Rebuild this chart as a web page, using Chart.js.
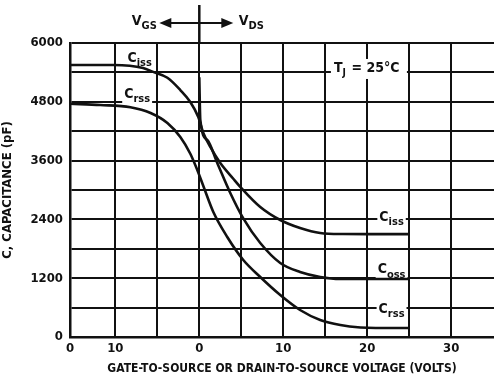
<!DOCTYPE html>
<html>
<head>
<meta charset="utf-8">
<script src="https://cdn.jsdelivr.net/npm/chart.js@4"></script>
<style>
  body { margin: 0; background: #fff; }
  #wrap { width: 494px; height: 381px; }
</style>
</head>
<body>
<div id="wrap"><canvas id="grafico"></canvas></div>
<script>
// datos
const cissV = [-15.4, -10.2, -6.7, -5.5, -3.8, -2.26, -1.07, -0.12, 0.48, 1.31, 2.5, 4.05, 4.9, 7.26, 9.64, 12, 14.4, 17.1, 20, 25];
const cissC = [5550, 5550, 5490, 5410, 5290, 5040, 4796, 4490, 4163, 3878, 3551, 3230, 3060, 2653, 2388, 2225, 2123, 2102, 2100, 2100];

const cossV = [0, 0.12, 0.95, 2.14, 3.69, 5.24, 7.26, 9.64, 12, 14.4, 16.8, 20, 25];
const cossC = [5300, 4430, 4020, 3551, 2939, 2420, 1918, 1510, 1327, 1225, 1184, 1184, 1184];

const crssV = [-15.4, -11.8, -8.2, -5.8, -3.8, -2.26, -1.07, -0.24, 0.48, 1.67, 3.33, 5.24, 7.26, 9.64, 12, 14.4, 16.8, 19.2, 21, 25];
const crssC = [4760, 4735, 4690, 4572, 4368, 4082, 3740, 3408, 3082, 2551, 2041, 1571, 1225, 857, 551, 347, 245, 194, 184, 184];

const xTickValues = [-15.4, -10, -5, 0, 5, 10, 15, 20, 25, 30];
const xTickText = ['0', '10', '', '0', '', '10', '', '20', '', '30'];
const yTickLabels = ['0', '1200', '2400', '3600', '4800', '6000'];

const xTitle = 'GATE-TO-SOURCE OR DRAIN-TO-SOURCE VOLTAGE (VOLTS)';
const yTitle = 'C, CAPACITANCE (pF)';

// etiquetas de curvas: [principal, subindice, x, y]
const etiquetas = [
  ['C', 'iss', -7.1, 5650],
  ['C', 'rss', -7.4, 4920],
  ['C', 'iss', 22.9, 2400],
  ['C', 'oss', 22.9, 1330],
  ['C', 'rss', 22.9, 520]
];

function puntos(xs, ys) {
  return xs.map((x, i) => ({ x: x, y: ys[i] }));
}

const fuente = '"Liberation Sans Narrow", "DejaVu Sans Condensed", sans-serif';

function textoSub(ctx, main, sub, cx, cy, fondo) {
  ctx.font = 'bold 14px ' + fuente;
  const w1 = ctx.measureText(main).width;
  ctx.font = 'bold 11px ' + fuente;
  const w2 = ctx.measureText(sub).width;
  const x0 = cx - (w1 + w2) / 2;
  if (fondo) {
    ctx.fillStyle = '#fff';
    ctx.fillRect(x0 - 2, cy - 9, w1 + w2 + 4, 19);
  }
  ctx.fillStyle = '#111';
  ctx.textBaseline = 'middle';
  ctx.textAlign = 'left';
  ctx.font = 'bold 14px ' + fuente;
  ctx.fillText(main, x0, cy - 2);
  ctx.font = 'bold 11px ' + fuente;
  ctx.fillText(sub, x0 + w1, cy + 3);
}

const anotaciones = {
  id: 'anotaciones',
  beforeDatasetsDraw(chart) {
    const ctx = chart.ctx;
    const sx = chart.scales.x, sy = chart.scales.y;
    ctx.save();
    // recuadro TJ
    const tx = sx.getPixelForValue(20.2), ty = sy.getPixelForValue(5470);
    ctx.font = 'bold 14px ' + fuente;
    ctx.fillStyle = '#fff';
    ctx.fillRect(tx - 38, ty - 10, 76, 20);
    ctx.fillStyle = '#111';
    ctx.textBaseline = 'middle';
    ctx.textAlign = 'left';
    ctx.fillText('T', tx - 35, ty - 1);
    const wT = ctx.measureText('T').width;
    ctx.font = 'bold 10px ' + fuente;
    ctx.fillText('J', tx - 35 + wT, ty + 4);
    ctx.font = 'bold 14px ' + fuente;
    ctx.fillText('= 25°C', tx - 35 + wT + 9, ty - 1);
    etiquetas.forEach(e => {
      textoSub(ctx, e[0], e[1], sx.getPixelForValue(e[2]), sy.getPixelForValue(e[3]), true);
    });
    ctx.restore();
  },
  afterDraw(chart) {
    const ctx = chart.ctx;
    const sx = chart.scales.x;
    const x0 = sx.getPixelForValue(0);
    const top = chart.chartArea.top;
    ctx.save();
    ctx.strokeStyle = '#111';
    ctx.fillStyle = '#111';
    ctx.lineWidth = 2.5;
    ctx.beginPath();
    ctx.moveTo(x0, 5);
    ctx.lineTo(x0, top);
    ctx.stroke();
    // flecha doble
    const ay = 23;
    ctx.lineWidth = 2;
    ctx.beginPath();
    ctx.moveTo(x0 - 32, ay);
    ctx.lineTo(x0 + 26, ay);
    ctx.stroke();
    ctx.beginPath();
    ctx.moveTo(x0 - 40, ay);
    ctx.lineTo(x0 - 28, ay - 5);
    ctx.lineTo(x0 - 28, ay + 5);
    ctx.closePath();
    ctx.fill();
    ctx.beginPath();
    ctx.moveTo(x0 + 34, ay);
    ctx.lineTo(x0 + 22, ay - 5);
    ctx.lineTo(x0 + 22, ay + 5);
    ctx.closePath();
    ctx.fill();
    textoSub(ctx, 'V', 'GS', x0 - 55, ay, false);
    textoSub(ctx, 'V', 'DS', x0 + 52, ay, false);
    ctx.restore();
  }
};

function serie(etq, datos) {
  return {
    label: etq,
    data: datos,
    borderColor: '#111',
    borderWidth: 2.6,
    pointRadius: 0,
    fill: false,
    cubicInterpolationMode: 'monotone'
  };
}

const ctx = document.getElementById('grafico').getContext('2d');
const grafico = new Chart(ctx, {
  type: 'line',
  data: {
    datasets: [
      serie('Ciss', puntos(cissV, cissC)),
      serie('Coss', puntos(cossV, cossC)),
      serie('Crss', puntos(crssV, crssC))
    ]
  },
  options: {
    responsive: true,
    maintainAspectRatio: false,
    animation: false,
    layout: { padding: { top: 43, right: 0, left: 0, bottom: 0 } },
    plugins: { legend: { display: false }, tooltip: { enabled: false } },
    scales: {
      x: {
        type: 'linear',
        min: -15.4,
        max: 35.1,
        afterBuildTicks: s => { s.ticks = xTickValues.map(v => ({ value: v })); },
        afterFit: s => { s.height = 44; },
        ticks: {
          autoSkip: false,
          maxRotation: 0,
          padding: 4,
          color: '#111',
          font: { family: fuente, size: 13, weight: 'bold' },
          callback: (v, i) => xTickText[i]
        },
        grid: { color: '#111', lineWidth: 2, drawTicks: false },
        border: { color: '#111', width: 2.5 },
        title: {
          display: true,
          text: xTitle,
          color: '#111',
          font: { family: fuente, size: 12, weight: 'bold' },
          padding: { top: 2, bottom: 5 }
        }
      },
      y: {
        min: 0,
        max: 6000,
        afterFit: s => { s.width = 70; },
        ticks: {
          stepSize: 600,
          autoSkip: false,
          padding: 7,
          color: '#111',
          font: { family: fuente, size: 13, weight: 'bold' },
          callback: v => (v % 1200 === 0 ? yTickLabels[v / 1200] : '')
        },
        grid: { color: '#111', lineWidth: 2, drawTicks: false },
        border: { color: '#111', width: 2.5 },
        title: {
          display: true,
          text: yTitle,
          color: '#111',
          font: { family: fuente, size: 13, weight: 'bold' },
          padding: { top: 0, bottom: 0 }
        }
      }
    }
  },
  plugins: [anotaciones]
});
</script>
</body>
</html>
